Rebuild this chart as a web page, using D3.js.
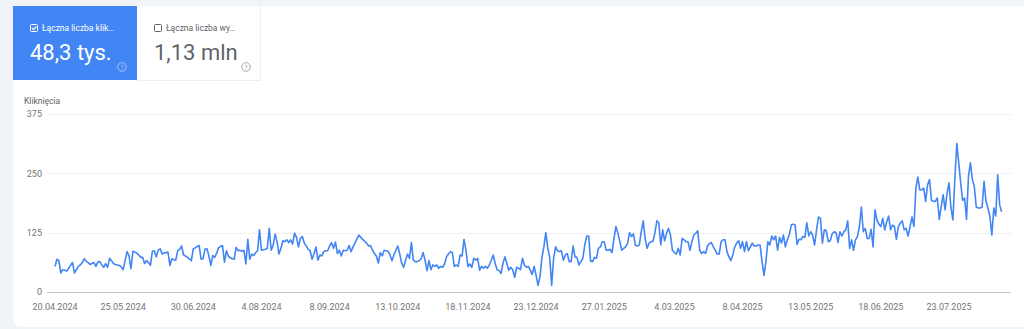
<!DOCTYPE html>
<html>
<head>
<meta charset="utf-8">
<script src="https://cdn.jsdelivr.net/npm/d3@7"></script>
<style>
  body { margin: 0; background: #f0f3f8; }
  svg { display: block; font-family: Roboto, sans-serif; }
</style>
</head>
<body>
<div id="chart"></div>
<script>
// daily clicks, one value per day starting at startDate
const startDate = "20.04.2024";

// 20.04.2024 - 13.08.2024
const clicksPart1 = [
  54, 69, 66, 40, 47, 46, 44, 50, 56, 62,
  40, 47, 54, 57, 62, 70, 65, 62, 58, 60,
  62, 54, 63, 64, 57, 52, 60, 52, 71, 66,
  60, 58, 57, 56, 53, 47, 66, 85, 76, 49,
  86, 84, 82, 78, 73, 73, 60, 66, 62, 56,
  86, 87, 74, 88, 91, 80, 82, 83, 84, 56,
  70, 68, 67, 87, 90, 97, 78, 76, 73, 70,
  66, 91, 93, 96, 98, 69, 70, 90, 91, 76,
  56, 77, 73, 82, 93, 96, 98, 63, 87, 76,
  72, 70, 69, 94, 87, 88, 86, 88, 59, 111,
  69, 80, 77, 83, 87, 131, 88, 89, 90, 92,
  134, 88, 98, 122, 106, 80
];

// 14.08.2024 - 13.12.2024
const clicksPart2 = [
  92, 108, 106, 110, 104, 110, 101, 124, 115, 95,
  113, 117, 103, 97, 90, 87, 69, 81, 95, 67,
  78, 76, 85, 87, 87, 97, 104, 92, 105, 81,
  88, 76, 88, 87, 88, 98, 85, 95, 103, 112,
  120, 115, 111, 107, 103, 97, 98, 88, 81, 76,
  61, 83, 76, 88, 87, 86, 78, 66, 78, 88,
  97, 80, 61, 52, 67, 80, 71, 104, 67, 64,
  64, 66, 70, 83, 67, 45, 66, 47, 57, 54,
  57, 50, 54, 52, 59, 74, 80, 85, 83, 54,
  57, 54, 78, 76, 111, 88, 54, 59, 52, 71,
  67, 71, 46, 54, 50, 54, 50, 57, 67, 78,
  60, 47, 45, 39, 61, 74, 60, 46, 52, 47,
  31, 52
];

// 14.12.2024 - 16.04.2025
const clicksPart3 = [
  50, 47, 71, 57, 52, 54, 46, 37, 54, 35,
  14, 32, 73, 95, 125, 92, 73, 14, 71, 95,
  87, 85, 87, 67, 78, 81, 64, 64, 97, 74,
  73, 57, 64, 71, 99, 118, 118, 65, 64, 73,
  71, 92, 95, 106, 106, 88, 88, 90, 83, 113,
  138, 124, 106, 88, 92, 95, 103, 125, 117, 122,
  98, 97, 99, 127, 150, 113, 92, 103, 106, 107,
  124, 150, 146, 99, 131, 108, 124, 134, 120, 88,
  83, 80, 92, 78, 113, 110, 106, 106, 88, 106,
  120, 124, 129, 88, 81, 85, 81, 97, 102, 104,
  95, 88, 80, 80, 106, 110, 110, 85, 74, 66,
  78, 95, 103, 108, 92, 106, 85, 106, 87, 95,
  103, 97, 97, 99
];

// 17.04.2025 - 19.08.2025
const clicksPart4 = [
  99, 64, 35, 64, 106, 99, 118, 110, 118, 88,
  115, 103, 120, 95, 110, 120, 141, 143, 141, 100,
  111, 110, 117, 115, 146, 118, 127, 120, 99, 131,
  158, 155, 103, 131, 129, 106, 108, 122, 127, 125,
  104, 127, 118, 127, 131, 150, 92, 110, 88, 110,
  117, 138, 179, 127, 134, 113, 113, 132, 95, 173,
  152, 143, 138, 155, 131, 148, 160, 131, 141, 138,
  111, 138, 145, 150, 131, 134, 118, 138, 158, 138,
  219, 242, 215, 215, 219, 191, 226, 237, 193, 191,
  191, 198, 153, 180, 205, 173, 208, 230, 177, 152,
  237, 313, 272, 230, 193, 198, 153, 244, 272, 237,
  222, 179, 177, 177, 179, 233, 191, 177, 159, 120,
  177, 160, 247, 184, 169
];

const yTicks = [0, 125, 250, 375];
const xTickLabels = [
  "20.04.2024", "25.05.2024", "30.06.2024", "4.08.2024", "8.09.2024",
  "13.10.2024", "18.11.2024", "23.12.2024", "27.01.2025", "4.03.2025",
  "8.04.2025", "13.05.2025", "18.06.2025", "23.07.2025"
];

const cardLabels = ["Łączna liczba klik…", "Łączna liczba wy…"];
const cardValues = ["48,3 tys.", "1,13 mln"];
const yTitle = "Kliknięcia";

const parseDate = d3.utcParse("%d.%m.%Y");
const start = parseDate(startDate);
const clicks = [].concat(clicksPart1, clicksPart2, clicksPart3, clicksPart4);
const data = clicks.map((v, i) => ({ date: d3.utcDay.offset(start, i), value: v }));

const W = 1024, H = 329;
const svg = d3.select("#chart").append("svg")
  .attr("width", W)
  .attr("height", H);

// background + white panel
svg.append("rect").attr("width", W).attr("height", H).attr("fill", "#f0f3f8");
svg.append("rect")
  .attr("x", 13).attr("y", 6)
  .attr("width", W - 13 + 10).attr("height", 321)
  .attr("rx", 8)
  .attr("fill", "#ffffff");

// metric cards
const cardW = 124;
const cardColors = [
  { bg: "#4285f4", fg: "#ffffff", icon: "rgba(255,255,255,0.55)" },
  { bg: "#ffffff", fg: "#5f6368", icon: "#9aa0a6" }
];

cardLabels.forEach((label, i) => {
  const g = svg.append("g").attr("transform", `translate(${13 + i * cardW},6)`);
  const c = cardColors[i];
  g.append("rect").attr("width", cardW).attr("height", 74).attr("fill", c.bg);

  // checkbox
  g.append("rect")
    .attr("x", 17.5).attr("y", 18.5)
    .attr("width", 7).attr("height", 7)
    .attr("rx", 1)
    .attr("fill", "none")
    .attr("stroke", c.fg)
    .attr("stroke-width", 1);
  if (i === 0) {
    g.append("path")
      .attr("d", "M19,22 L20.7,23.7 L23.3,20.3")
      .attr("fill", "none")
      .attr("stroke", c.fg)
      .attr("stroke-width", 1.1);
  }

  g.append("text")
    .attr("x", 29).attr("y", 25)
    .attr("fill", c.fg)
    .style("font-size", "8.5px")
    .text(label);

  g.append("text")
    .attr("x", 17).attr("y", 54)
    .attr("fill", c.fg)
    .style("font-size", "22px")
    .text(cardValues[i]);

  // help icon
  g.append("circle")
    .attr("cx", 109).attr("cy", 61)
    .attr("r", 4.3)
    .attr("fill", "none")
    .attr("stroke", c.icon)
    .attr("stroke-width", 0.9);
  g.append("text")
    .attr("x", 109).attr("y", 63.6)
    .attr("text-anchor", "middle")
    .attr("fill", c.icon)
    .style("font-size", "6.5px")
    .text("?");
});

// borders of the second card
svg.append("line")
  .attr("x1", 13 + 2 * cardW - 0.5).attr("x2", 13 + 2 * cardW - 0.5)
  .attr("y1", 6).attr("y2", 80.5)
  .attr("stroke", "#eceef1");
svg.append("line")
  .attr("x1", 13 + cardW).attr("x2", 13 + 2 * cardW)
  .attr("y1", 80.5).attr("y2", 80.5)
  .attr("stroke", "#eceef1");

// scales
const x = d3.scaleUtc()
  .domain([parseDate(xTickLabels[0]), parseDate(xTickLabels[xTickLabels.length - 1])])
  .range([55, 949]);

const y = d3.scaleLinear()
  .domain([0, 375])
  .range([292, 114]);

const gridX0 = 47, gridX1 = 1011;

// grid lines
svg.append("g")
  .selectAll("line")
  .data(yTicks)
  .join("line")
  .attr("x1", gridX0).attr("x2", gridX1)
  .attr("y1", d => Math.round(y(d)) + 0.5)
  .attr("y2", d => Math.round(y(d)) + 0.5)
  .attr("stroke", d => d === 0 ? "#c6c6c6" : "#f0f0f0")
  .attr("stroke-width", 1);

// y labels
svg.append("g")
  .selectAll("text")
  .data(yTicks)
  .join("text")
  .attr("x", 42)
  .attr("y", d => y(d) + 3.2)
  .attr("text-anchor", "end")
  .attr("fill", "#757575")
  .style("font-size", "9px")
  .text(d => d);

svg.append("text")
  .attr("x", 24).attr("y", 104)
  .attr("fill", "#5f6368")
  .style("font-size", "8.5px")
  .text(yTitle);

// x labels
svg.append("g")
  .selectAll("text")
  .data(xTickLabels)
  .join("text")
  .attr("x", d => x(parseDate(d)))
  .attr("y", 309.5)
  .attr("text-anchor", "middle")
  .attr("fill", "#757575")
  .style("font-size", "9px")
  .text(d => d);

// line
const line = d3.line()
  .x(d => x(d.date))
  .y(d => y(d.value));

svg.append("path")
  .datum(data)
  .attr("fill", "none")
  .attr("stroke", "#4285f4")
  .attr("stroke-width", 1.6)
  .attr("stroke-linejoin", "round")
  .attr("d", line);
</script>
</body>
</html>
